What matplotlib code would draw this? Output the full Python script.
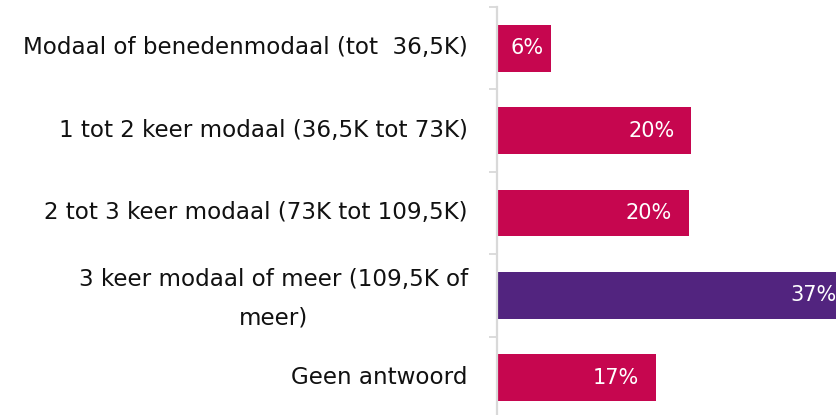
import matplotlib
matplotlib.use("Agg")
import matplotlib.pyplot as plt
from matplotlib.transforms import offset_copy, ScaledTranslation

categories = [
    "Modaal of benedenmodaal (tot  36,5K)",
    "1 tot 2 keer modaal (36,5K tot 73K)",
    "2 tot 3 keer modaal (73K tot 109,5K)",
    "3 keer modaal of meer (109,5K of\nmeer)",
    "Geen antwoord",
]
values = [5.6, 20.4, 20.1, 37.5, 16.7]
value_labels = ["6%", "20%", "20%", "37%", "17%"]
highlight = [False, False, False, True, False]

PINK = "#C6064F"
PURPLE = "#52247F"
GRID = "#D9D9D9"

W, H = 836, 415
fig = plt.figure(figsize=(W / 100, H / 100), dpi=100)
left_px, top_px, bottom_px = 497, 7, 419
ax = fig.add_axes([left_px / W, 1 - bottom_px / H, 1 - left_px / W, (bottom_px - top_px) / H])

n = len(categories)
ypos = list(range(n))
colors = [PURPLE if h else PINK for h in highlight]
ax.barh(ypos, values, height=0.57, color=colors, left=0.07)
ax.set_xlim(0, 35.7)
ax.set_ylim(n - 0.5, -0.5)

for s in ["top", "right", "bottom"]:
    ax.spines[s].set_visible(False)
ax.spines["left"].set_color(GRID)
ax.spines["left"].set_linewidth(1.6)
ax.set_xticks([])

ax.set_yticks(ypos)
ax.set_yticklabels(categories, fontsize=16.6, color="#111111", linespacing=1.85,
                   multialignment="center")
ax.tick_params(axis="y", which="major", length=0, pad=21)
for t in ax.get_yticklabels():
    dy = 7 if "\n" in t.get_text() else 3
    t.set_transform(t.get_transform() + ScaledTranslation(0, dy / 100, fig.dpi_scale_trans))
ax.set_yticks([i - 0.5 for i in range(n + 1)], minor=True)
ax.tick_params(axis="y", which="minor", length=5.8, width=1.3, color=GRID)

for y, v, lab in zip(ypos, values, value_labels):
    pad = -7 if v < 10 else -17
    tr = offset_copy(ax.transData, fig=fig, x=pad, y=0, units="dots")
    ax.text(v + 0.07, y, lab, transform=tr, ha="right", va="center",
            color="white", fontsize=15, clip_on=False)

fig.savefig("out.png", dpi=100)
